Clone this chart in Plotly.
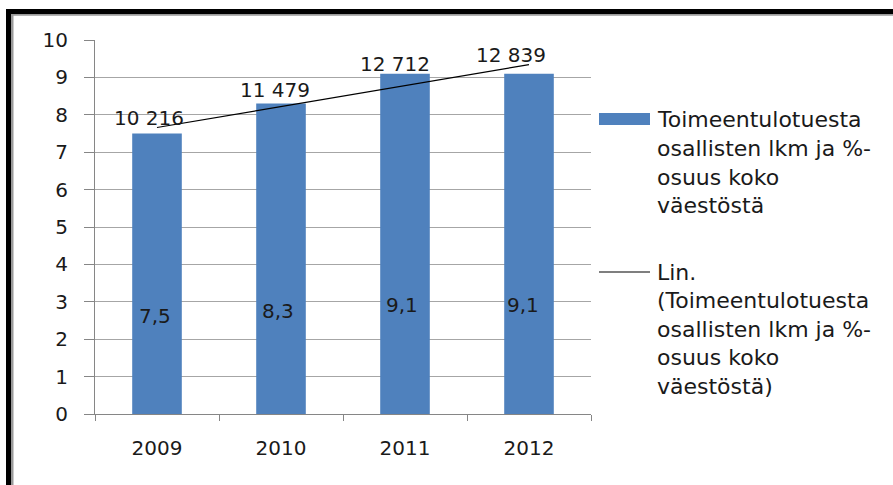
import numpy as np
import plotly.graph_objects as go

# ---- data ----
years = ["2009", "2010", "2011", "2012"]
share_pct = [7.5, 8.3, 9.1, 9.1]
share_labels = ["7,5", "8,3", "9,1", "9,1"]
count_labels = ["10 216", "11 479", "12 712", "12 839"]
y_ticks = [0, 1, 2, 3, 4, 5, 6, 7, 8, 9, 10]
legend_bar_lines = ["Toimeentulotuesta", "osallisten lkm ja %-", "osuus koko", "väestöstä"]
legend_trend_lines = ["Lin.", "(Toimeentulotuesta", "osallisten lkm ja %-", "osuus koko", "väestöstä)"]

# ---- style / placement (pixels) ----
W, H = 893, 485
L, R, T, B = 95, 591, 40, 414
count_xshift = [-8, -6, -10, -18]
count_yshift = [16, 14, 10, 19]
share_yshift = [98, 103, 109, 109]
share_xshift = [-2, -3, -3, -6]
BAR_COLOR = "#4F81BD"
FONT = "DejaVu Sans"
TXT = "#1a1a1a"
FS = 20
LEG_FS = 22

def px(x):
    return (x - L) / (R - L)

def py(y):
    return (B - y) / (B - T)

idx = np.arange(len(share_pct))
slope, intercept = np.polyfit(idx, share_pct, 1)
trend = intercept + slope * idx

fig = go.Figure()
fig.add_trace(go.Bar(x=years, y=share_pct, width=0.4, marker=dict(color=BAR_COLOR, line=dict(width=0)),
                     showlegend=False, hoverinfo="skip"))
fig.add_trace(go.Scatter(x=years, y=trend, mode="lines", line=dict(color="black", width=1.2),
                         showlegend=False, hoverinfo="skip"))

ann = []
for i in range(len(years)):
    ann.append(dict(x=i, y=share_pct[i], xref="x", yref="y", text=count_labels[i], showarrow=False,
                    xshift=count_xshift[i], yshift=count_yshift[i], yanchor="middle",
                    font=dict(family=FONT, size=FS, color=TXT)))
    ann.append(dict(x=i, y=0, xref="x", yref="y", text=share_labels[i], showarrow=False,
                    xshift=share_xshift[i], yshift=share_yshift[i], yanchor="middle",
                    font=dict(family=FONT, size=FS, color=TXT)))

LINE_H = 28.5
for k, t in enumerate(legend_bar_lines):
    ann.append(dict(x=px(655), y=py(120 + k * LINE_H), xref="paper", yref="paper", text=t, showarrow=False,
                    xanchor="left", yanchor="middle", font=dict(family=FONT, size=LEG_FS, color=TXT)))
for k, t in enumerate(legend_trend_lines):
    ann.append(dict(x=px(655), y=py(272 + k * LINE_H), xref="paper", yref="paper", text=t, showarrow=False,
                    xanchor="left", yanchor="middle", font=dict(family=FONT, size=LEG_FS, color=TXT)))

shapes = [
    dict(type="rect", xref="paper", yref="paper", x0=px(599), x1=px(650), y0=py(113), y1=py(125),
         fillcolor=BAR_COLOR, line=dict(width=0)),
    dict(type="line", xref="paper", yref="paper", x0=px(599), x1=px(650), y0=py(272), y1=py(272),
         line=dict(color="black", width=1.2)),
    # frame: shadows then black borders
    dict(type="rect", xref="paper", yref="paper", x0=px(11), x1=px(13.5), y0=py(14), y1=py(H + 5),
         fillcolor="#9a9a9a", line=dict(width=0), layer="above"),
    dict(type="rect", xref="paper", yref="paper", x0=px(11), x1=px(W + 5), y0=py(14), y1=py(15.8),
         fillcolor="#9a9a9a", line=dict(width=0), layer="above"),
    dict(type="rect", xref="paper", yref="paper", x0=px(6), x1=px(11), y0=py(9), y1=py(H + 5),
         fillcolor="black", line=dict(width=0), layer="above"),
    dict(type="rect", xref="paper", yref="paper", x0=px(6), x1=px(W + 5), y0=py(9), y1=py(14),
         fillcolor="black", line=dict(width=0), layer="above"),
]

fig.update_layout(
    width=W, height=H, autosize=False,
    margin=dict(l=L, r=W - R, t=T, b=H - B, pad=0),
    paper_bgcolor="white", plot_bgcolor="white",
    showlegend=False,
    annotations=ann, shapes=shapes,
    xaxis=dict(type="category", range=[-0.5, 3.5], tickson="boundaries", ticks="outside", ticklen=6,
               tickcolor="#868686", showline=True, linecolor="#868686", linewidth=1, showgrid=False,
               tickfont=dict(family=FONT, size=FS, color=TXT), ticklabelstandoff=16, fixedrange=True),
    yaxis=dict(range=[0, 10], tickvals=y_ticks, ticks="outside", ticklen=10, tickcolor="#868686",
               showline=True, linecolor="#868686", linewidth=1, showgrid=True, gridcolor="#a6a6a6",
               gridwidth=1, zeroline=False, tickfont=dict(family=FONT, size=FS, color=TXT),
               ticklabelstandoff=12, fixedrange=True),
)

fig.write_html("out.html", config={"displayModeBar": False},
               post_script="document.body.style.margin='0';document.body.style.padding='0';")
